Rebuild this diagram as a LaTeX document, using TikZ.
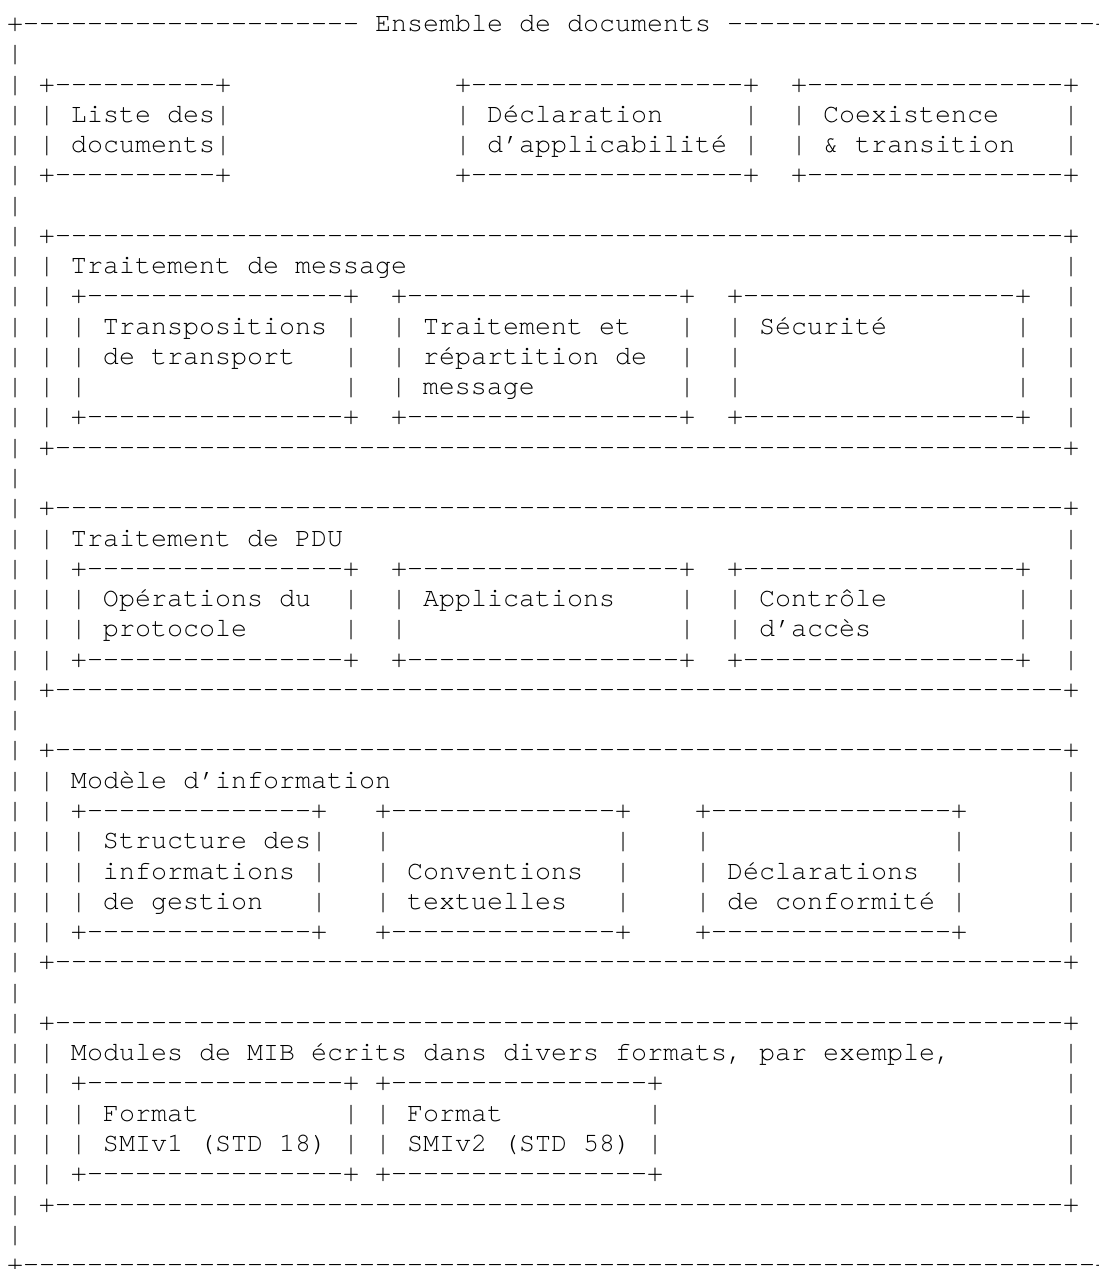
\documentclass[tikz,border=0pt]{standalone}
\usepackage{fontspec}
\setmonofont{TeX Gyre Cursor}
\newcommand\Bk[1]{\kern#1\dimexpr0.6em\relax}
\newcommand\Dh[1]{\ifnum#1>0 -\expandafter\Dh\expandafter{\the\numexpr#1-1\relax}\fi}
% rows of the ASCII picture (runs of blanks as \Bk{n}, runs of dashes as \Dh{n})
\newcommand\rTop{+\Dh{21} Ensemble de documents \Dh{23}+}
\newcommand\rBot{+\Dh{67}+}
\newcommand\rBar{|}
\newcommand\rSep{| +\Dh{63}+}
\newcommand\rTopBox{| +\Dh{10}+\Bk{14}+\Dh{17}+\Bk{2}+\Dh{16}+}
\newcommand\rListe{| | Liste des|\Bk{14}| Déclaration\Bk{5}|\Bk{2}| Coexistence\Bk{4}|}
\newcommand\rDocs{| | documents|\Bk{14}| d’applicabilité |\Bk{2}| \& transition\Bk{3}|}
\newcommand\rMsgTitle{| | Traitement de message\Bk{41}|}
\newcommand\rSubBox{| | +\Dh{16}+\Bk{2}+\Dh{17}+\Bk{2}+\Dh{17}+\Bk{2}|}
\newcommand\rMsgA{| | | Transpositions |\Bk{2}| Traitement et\Bk{3}|\Bk{2}| Sécurité\Bk{8}|\Bk{2}|}
\newcommand\rMsgB{| | | de transport\Bk{3}|\Bk{2}| répartition de\Bk{2}|\Bk{2}|\Bk{17}|\Bk{2}|}
\newcommand\rMsgC{| | |\Bk{16}|\Bk{2}| message\Bk{9}|\Bk{2}|\Bk{17}|\Bk{2}|}
\newcommand\rPduTitle{| | Traitement de PDU\Bk{45}|}
\newcommand\rPduA{| | | Opérations du\Bk{2}|\Bk{2}| Applications\Bk{4}|\Bk{2}| Contrôle\Bk{8}|\Bk{2}|}
\newcommand\rPduB{| | | protocole\Bk{6}|\Bk{2}|\Bk{17}|\Bk{2}| d’accès\Bk{9}|\Bk{2}|}
\newcommand\rInfoTitle{| | Modèle d’information\Bk{42}|}
\newcommand\rInfoBox{| | +\Dh{14}+\Bk{3}+\Dh{14}+\Bk{4}+\Dh{15}+\Bk{6}|}
\newcommand\rInfoA{| | | Structure des|\Bk{3}|\Bk{14}|\Bk{4}|\Bk{15}|\Bk{6}|}
\newcommand\rInfoB{| | | informations |\Bk{3}| Conventions\Bk{2}|\Bk{4}| Déclarations\Bk{2}|\Bk{6}|}
\newcommand\rInfoC{| | | de gestion\Bk{3}|\Bk{3}| textuelles\Bk{3}|\Bk{4}| de conformité |\Bk{6}|}
\newcommand\rMibTitle{| | Modules de MIB écrits dans divers formats, par exemple,\Bk{7}|}
\newcommand\rMibBox{| | +\Dh{16}+ +\Dh{16}+\Bk{25}|}
\newcommand\rMibA{| | | Format\Bk{9}| | Format\Bk{9}|\Bk{25}|}
\newcommand\rMibB{| | | SMIv1 (STD 18) | | SMIv2 (STD 58) |\Bk{25}|}
\begin{document}
\begin{tikzpicture}[x=1pt,y=1pt,
  asciirow/.style={anchor=base west, inner sep=0pt, outer sep=0pt,
    font=\ttfamily\frenchspacing\fontsize{26.667}{30}\selectfont, text=black}]
\useasboundingbox (0,0) rectangle (1098,1269);
\fill[white] (0,0) rectangle (1098,1269);
\clip (0,0) rectangle (1098,1269);
\foreach \m [count=\i] in {\rTop,\rBar,\rTopBox,\rListe,\rDocs,\rTopBox,\rBar,
  \rSep,\rMsgTitle,\rSubBox,\rMsgA,\rMsgB,\rMsgC,\rSubBox,\rSep,\rBar,
  \rSep,\rPduTitle,\rSubBox,\rPduA,\rPduB,\rSubBox,\rSep,\rBar,
  \rSep,\rInfoTitle,\rInfoBox,\rInfoA,\rInfoB,\rInfoC,\rInfoBox,\rSep,\rBar,
  \rSep,\rMibTitle,\rMibBox,\rMibA,\rMibB,\rMibBox,\rSep,\rBar,\rBot}
  \node[asciirow] (r\i) at (7,{1237.5-30.27*(\i-1)}) {\m};
\end{tikzpicture}
\end{document}
